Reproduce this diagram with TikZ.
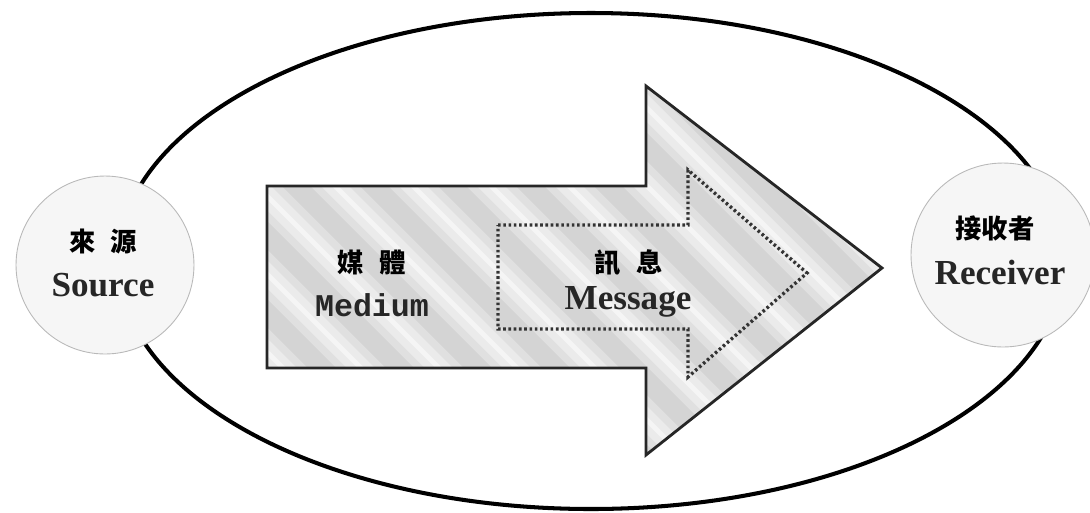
\documentclass[tikz,border=0pt]{standalone}
\usepackage{fontspec}
\setmainfont{Liberation Serif}
\newfontfamily\cjk{Noto Sans CJK TC}
\newfontfamily\monofnt{Liberation Mono}
\tikzset{
  outer/.style={line width=2.3pt, draw=black},
  party/.style={circle, draw=gray!55, line width=0.5pt, fill=gray!7, minimum size=#1, inner sep=0pt},
  bigarrow/.style={draw=black!85, line width=1.6pt, line join=miter},
  msgarrow/.style={draw=black!80, line width=1.9pt, dash pattern=on 1.5pt off 1.5pt},
  stripe/.style={draw=gray, line cap=round},
  zh/.style={font=\cjk\bfseries\fontsize{15}{17}\selectfont, inner sep=0pt},
  en/.style={font=\bfseries\fontsize{20}{22}\selectfont, inner sep=0pt, text=black!85},
  enmono/.style={font=\monofnt\bfseries\fontsize{18}{20}\selectfont, inner sep=0pt, text=black!85}
}
\begin{document}
\begin{tikzpicture}[x=0.02cm,y=-0.02cm]
\useasboundingbox (0,0) rectangle (1090,512);
\clip (0,0) rectangle (1090,512);
% outer ellipse
\draw[outer] (591,261) ellipse [x radius=473, y radius=248];
% parties
\node[party=3.56cm] (src) at (105,265) {};
\node[party=3.68cm] (rcv) at (1003,255) {};
% big arrow (medium)
\coordinate (a1) at (267,186);
\coordinate (a2) at (646,186);
\coordinate (a3) at (646,86);
\coordinate (a4) at (882,268);
\coordinate (a5) at (646,455);
\coordinate (a6) at (646,368);
\coordinate (a7) at (267,368);
\fill[gray!8] (a1) -- (a2) -- (a3) -- (a4) -- (a5) -- (a6) -- (a7) -- cycle;
\begin{scope}
  \clip (a1) -- (a2) -- (a3) -- (a4) -- (a5) -- (a6) -- (a7) -- cycle;
  \foreach \k in {0,...,16} {
    \draw[stripe, line width=1.0cm, draw opacity=0.08] ({-220+\k*78},60) -- ++(420,420);
    \draw[stripe, line width=0.7cm, draw opacity=0.10] ({-220+\k*78},60) -- ++(420,420);
    \draw[stripe, line width=0.4cm, draw opacity=0.12] ({-220+\k*78},60) -- ++(420,420);
  }
\end{scope}
\draw[bigarrow] (a1) -- (a2) -- (a3) -- (a4) -- (a5) -- (a6) -- (a7) -- cycle;
% dotted arrow (message)
\coordinate (m1) at (498,225);
\coordinate (m2) at (688,225);
\coordinate (m3) at (688,170);
\coordinate (m4) at (807,273);
\coordinate (m5) at (688,377);
\coordinate (m6) at (688,329);
\coordinate (m7) at (498,329);
\draw[msgarrow] (m1) -- (m2) -- (m3) -- (m4) -- (m5) -- (m6) -- (m7) -- cycle;
% labels
\node[zh] (srczh) at (103,242) {來\hspace{0.55em}源};
\node[en] (srcen) at (103,285) {Source};
\node[zh] (medzh) at (372,263) {媒\hspace{0.6em}體};
\node[enmono] (meden) at (372,305) {Medium};
\node[zh] (msgzh) at (629,263) {訊\hspace{0.6em}息};
\node[en] (msgen) at (628,302) {Message};
\node[zh] (rcvzh) at (995,228) {接收者};
\node[en] (rcven) at (1000,272) {Receiver};
\end{tikzpicture}
\end{document}
